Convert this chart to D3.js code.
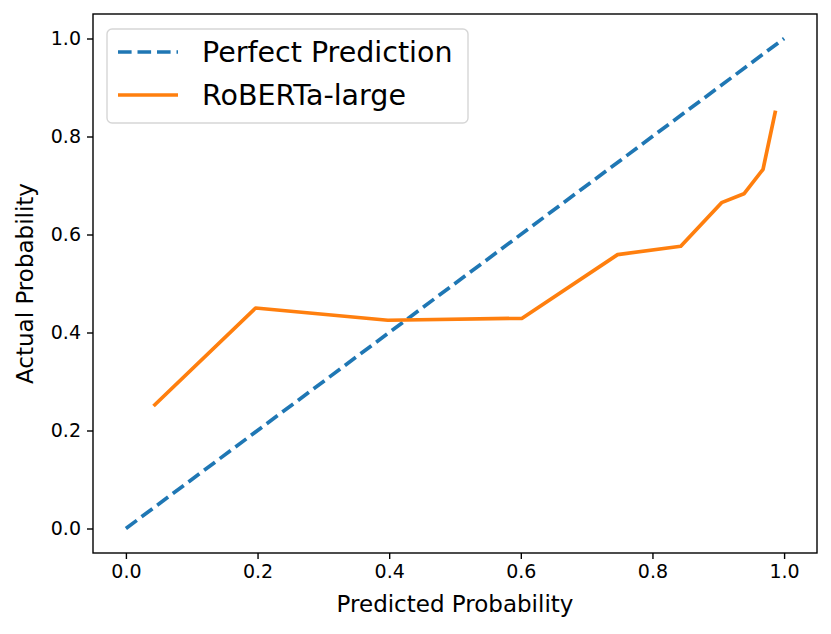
<!DOCTYPE html>
<html>
<head>
<meta charset="utf-8">
<script src="https://cdn.jsdelivr.net/npm/d3@7"></script>
<style>
  body { margin: 0; background: #fff; }
  text { font-family: "DejaVu Sans", sans-serif; }
</style>
</head>
<body>
<div id="chart"></div>
<script>
// data
const perfectX = [0, 1];
const perfectY = [0, 1];
const robertaX = [0.042, 0.197, 0.398, 0.602, 0.747, 0.843, 0.905, 0.939, 0.968, 0.987];
const robertaY = [0.250, 0.450, 0.425, 0.429, 0.559, 0.576, 0.665, 0.683, 0.733, 0.853];
const xTicks = [0, 0.2, 0.4, 0.6, 0.8, 1.0];
const yTicks = [0, 0.2, 0.4, 0.6, 0.8, 1.0];
const seriesNames = ["Perfect Prediction", "RoBERTa-large"];

var W = 831, H = 634;
var plotL = 93, plotR = 817, plotT = 14, plotB = 553;

const svg = d3.select("#chart").append("svg")
    .attr("width", W).attr("height", H);

var xScale = d3.scaleLinear().domain([-0.05, 1.05]).range([plotL, plotR]);
var yScale = d3.scaleLinear().domain([-0.05, 1.05]).range([plotB, plotT]);

// axes
var xAxis = svg.append("g")
    .attr("transform", "translate(0," + plotB + ")")
    .call(d3.axisBottom(xScale).tickValues(xTicks).tickFormat(d3.format(".1f")).tickSize(6).tickPadding(6));
var yAxis = svg.append("g")
    .attr("transform", "translate(" + plotL + ",0)")
    .call(d3.axisLeft(yScale).tickValues(yTicks).tickFormat(d3.format(".1f")).tickSize(6).tickPadding(6));
[xAxis, yAxis].forEach(function(a) {
    a.select(".domain").remove();
    a.selectAll("line").attr("stroke", "#000").attr("stroke-width", 1.4);
    a.selectAll("text").attr("fill", "#000").style("font-size", "19px").style("font-family", "DejaVu Sans");
});

// lines
var line = d3.line().x(function(d) { return xScale(d[0]); }).y(function(d) { return yScale(d[1]); });

svg.append("path")
    .datum(d3.zip(perfectX, perfectY))
    .attr("d", line)
    .attr("fill", "none")
    .attr("stroke", "#1f77b4")
    .attr("stroke-width", 3.7)
    .attr("stroke-dasharray", "13.6,5.9");

svg.append("path")
    .datum(d3.zip(robertaX, robertaY))
    .attr("d", line)
    .attr("fill", "none")
    .attr("stroke", "#ff7f0e")
    .attr("stroke-width", 3.7)
    .attr("stroke-linejoin", "round");

// frame
svg.append("rect")
    .attr("x", plotL).attr("y", plotT)
    .attr("width", plotR - plotL).attr("height", plotB - plotT)
    .attr("fill", "none").attr("stroke", "#000").attr("stroke-width", 1.4);

// axis labels
svg.append("text")
    .attr("x", (plotL + plotR) / 2).attr("y", 612)
    .attr("text-anchor", "middle")
    .style("font-size", "23px")
    .text("Predicted Probability");
svg.append("text")
    .attr("transform", "translate(33," + (plotT + plotB) / 2 + ") rotate(-90)")
    .attr("text-anchor", "middle")
    .style("font-size", "23px")
    .text("Actual Probability");

// legend
var legend = svg.append("g");
legend.append("rect")
    .attr("x", 107).attr("y", 29).attr("width", 361).attr("height", 94)
    .attr("rx", 5).attr("fill", "#fff").attr("fill-opacity", 0.8)
    .attr("stroke", "#d6d6d6").attr("stroke-width", 1.4);
var styles = [{c: "#1f77b4", dash: "13.6,5.9"}, {c: "#ff7f0e", dash: null}];
seriesNames.forEach(function(name, i) {
    var cy = 52 + i * 43;
    legend.append("line")
        .attr("x1", 118).attr("x2", 178).attr("y1", cy).attr("y2", cy)
        .attr("stroke", styles[i].c).attr("stroke-width", 3.7)
        .attr("stroke-dasharray", styles[i].dash);
    legend.append("text")
        .attr("x", 202).attr("y", cy + 10)
        .style("font-size", "28.5px")
        .text(name);
});
</script>
</body>
</html>
